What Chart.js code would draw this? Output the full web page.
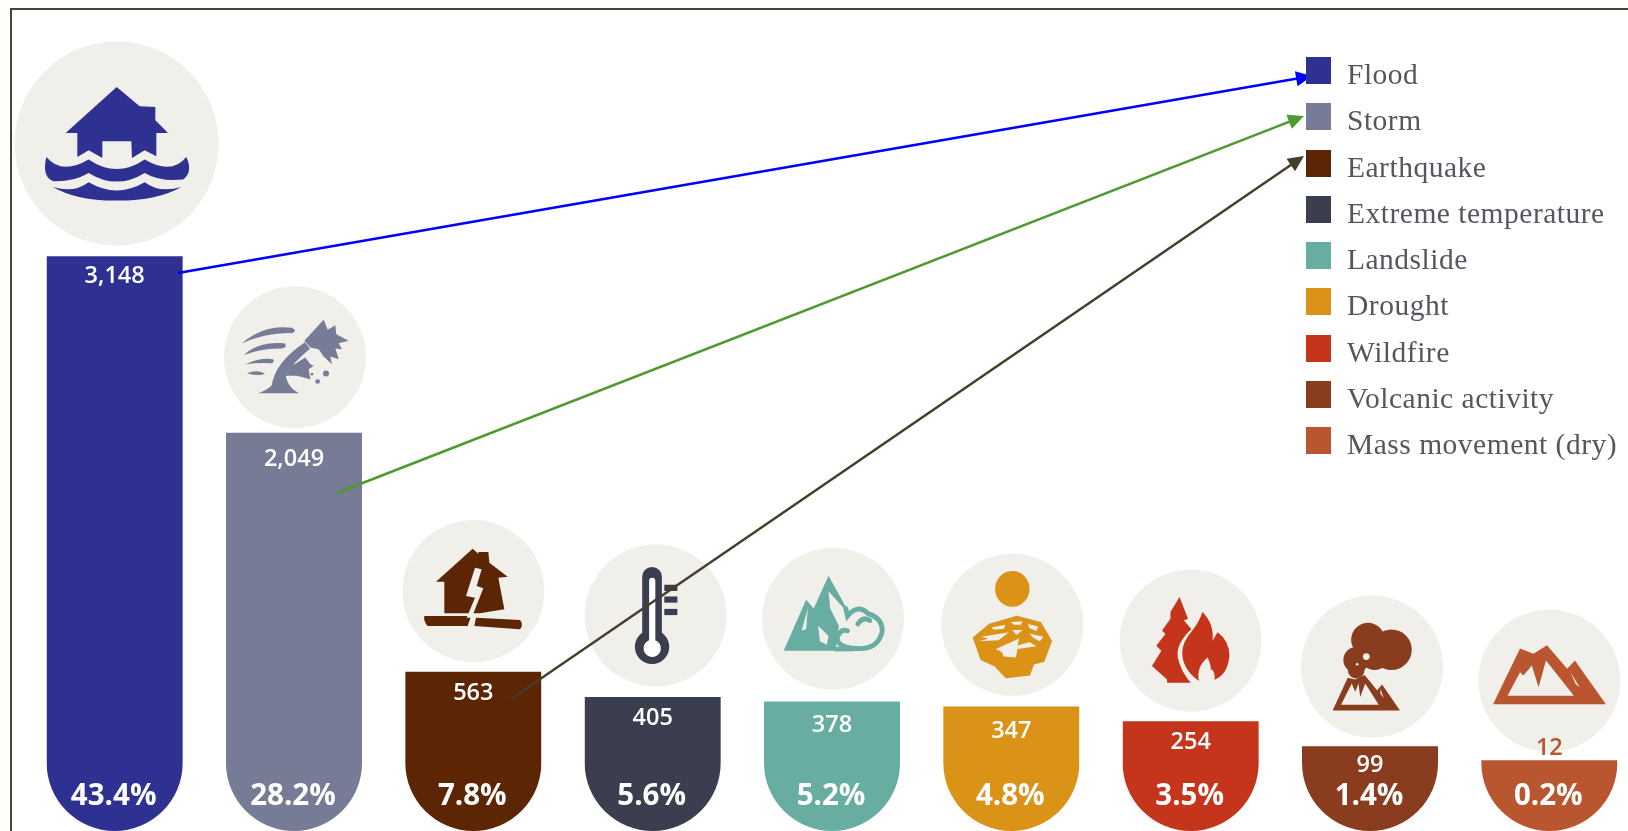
<!DOCTYPE html>
<html>
<head>
<meta charset="utf-8">
<title>Disasters by type</title>
<script src="https://cdn.jsdelivr.net/npm/chart.js@4"></script>
<style>
  html, body { margin: 0; background: #fff; overflow: hidden; width: 1628px; height: 831px; }
  #frame { position: absolute; left: 10px; top: 8px; right: -4px; bottom: -4px; border: 2px solid #4a4433; }
  #wrap { position: absolute; left: 0; top: 0; width: 1640px; height: 831px; }
  #legend { position: absolute; left: 1306px; top: 57px; }
  .row { display: flex; height: 46.25px; color: #55565f; font: 29.5px/1 "Liberation Serif", serif; letter-spacing: .5px; }
  .sq { width: 25px; height: 27px; margin-right: 16px; flex: none; }
  .row span { margin-top: 3px; white-space: nowrap; }
</style>
</head>
<body>
<div id="frame"></div>
<div id="wrap"><canvas id="chart"></canvas></div>
<div id="legend"></div>
<script>
/* ── DATA ───────────────────────────────────────────────────────────── */
const categories = ['Flood', 'Storm', 'Earthquake', 'Extreme temperature', 'Landslide', 'Drought', 'Wildfire', 'Volcanic activity', 'Mass movement (dry)'];
const counts     = [3148, 2049, 563, 405, 378, 347, 254, 99, 12];
const countText  = ['3,148', '2,049', '563', '405', '378', '347', '254', '99', '12'];
const shares     = ['43.4%', '28.2%', '7.8%', '5.6%', '5.2%', '4.8%', '3.5%', '1.4%', '0.2%'];
const colors     = ['#2e3192', '#767b96', '#5c2504', '#3b3e4e', '#68ada2', '#da9217', '#c4351c', '#893d1e', '#b9562f'];

/* ── STYLE / LAYOUT ─────────────────────────────────────────────────── */
const DISC    = '#f0efe9';
const Y_MIN   = -426;
const Y_MAX   = 4682;
const CAP_R   = 68;
const discR   = [102, 71, 71, 71, 71, 71, 71, 71, 71];
const discUp  = [113, 76, 81, 82, 83, 82, 81, 80, 80];   // disc centre above bar top
const discOff = [2, 1, 0, 3, 1, 1, 0, 2, 0];             // disc centre right of bar centre
const textOff = [20, 26, 21.5, 21, 24, 25, 20.5, 18.5, -12]; // count label below bar top
const links   = [
  { from: [178, 273], to: [1312, 76],  color: '#0000ff' },
  { from: [337, 493], to: [1304, 116], color: '#4e9a2e' },
  { from: [511, 699], to: [1304, 156], color: '#453e2c' },
];

/* ── ICONS (svg paths around the disc centre; `cut` is knocked out) ─── */
const icons = [
  { k: 1/3, fill: [
      'M0,-170 L69,-112 L116,-110 L116,-70 L154,-32 L119,-32 L119,38 L84,20 L46,43 L44,-7 L-43,-7 L-43,43 L-84,20 L-118,40 L-118,-32 L-153,-32 Z',
      'M-211,40 Q-165,95 -84,48 Q0,105 84,48 Q165,95 209,40 Q230,85 199,108 Q130,115 84,88 Q0,140 -84,88 Q-130,115 -190,113 Q-225,100 -211,40 Z',
      'M-191,130 Q-130,150 -84,116 Q0,165 84,116 Q130,150 194,130 Q120,172 0,171 Q-120,172 -191,130 Z'] },
  { k: 1/3, fill: [
      'M-159,-42 Q-90,-100 -10,-88 Q10,-78 -10,-72 Q-80,-75 -159,-42 Z',
      'M-154,-6 Q-110,-48 -32,-42 Q-20,-30 -40,-26 Q-100,-28 -154,-6 Z',
      'M-149,21 Q-100,0 -66,6 Q-60,14 -70,18 Q-110,16 -149,21 Z',
      'M-144,48 Q-110,36 -90,50 Q-110,58 -144,48 Z',
      'M-111,108 Q-85,100 -70,85 Q-60,15 30,-45 L45,-25 Q-5,15 -28,55 Q-22,90 11,108 Z',
      'M28,-49 L46,-69 L86,-112 L98,-82 L121,-96 L124,-69 L161,-49 L131,-42 L141,-24 L121,-26 L131,6 L106,-2 L111,21 L86,-2 L71,-24 L46,-29 Z',
      'M-29,56 L-9,26 L31,1 L46,21 L56,26 L41,36 L46,66 L6,56 Z',
      'M84,49 a9,9 0 1,0 18,0 a9,9 0 1,0 -18,0 Z',
      'M61,73 a7,7 0 1,0 14,0 a7,7 0 1,0 -14,0 Z',
      'M47,51 a4,4 0 1,0 8,0 a4,4 0 1,0 -8,0 Z'] },
  { k: 1/3, fill: [
      'M-2,-127 L15,-112 L15,-117 L45,-117 L48,-85 L103,-43 L75,-40 L93,55 L20,67 L-87,67 L-87,-28 L-112,-28 Z',
      'M-147,75 L-7,75 L-17,105 L-137,105 Q-150,90 -147,75 Z',
      'M8,80 L140,87 Q152,100 140,115 L3,105 Z'],
    cut: ['M5,-70 L25,-65 L10,-15 L30,-8 L-5,80 L-20,80 L5,20 L-22,15 Z'] },
  { k: 1/2.9, fill: [
      'M-39,-112 a28,28 0 0 1 57,0 L18,50 a50,50 0 1,1 -57,0 Z',
      'M25,-89 L63,-89 L63,-71 L25,-71 Z', 'M25,-55 L63,-55 L63,-37 L25,-37 Z', 'M25,-19 L63,-19 L63,-1 L25,-1 Z'],
    white: ['M-19,-100 a9,9 0 0 1 18,0 L-1,72 a25,25 0 1,1 -18,0 Z'] },
  { k: 1/2.9, fill: [
      'M-143,93 L-78,-55 L-56,-30 L-13,-125 L37,-35 L45,-15 L-13,-80 L-8,-30 L17,20 L7,93 Z'],
    cut: ['M-73,-30 L-91,35 L-78,30 Z', 'M-43,20 L-13,50 L-18,75 L-38,65 Z'],
    line: ['M37,-30 L42,-8 Q72,-45 102,-15 Q147,0 142,40 Q127,95 57,85 Q12,80 12,55 Q22,28 42,35', 'M72,15 Q87,-8 107,5', 'M7,88 L60,87'] },
  { k: 1/2.9, fill: [
      'M-50,-104 a50,52 0 1,0 100,0 a50,52 0 1,0 -100,0 Z',
      'M-115,37 L-67,-3 L13,-26 L83,-8 L115,47 L93,107 L63,115 L51,147 L-19,155 L-52,120 L-92,102 Z'],
    cut: ['M-60,8 L-20,0 L-25,12 L-55,14 Z', 'M-5,-8 L30,-10 L25,0 L5,0 Z', 'M45,-2 L75,5 L70,18 L50,10 Z',
          'M-90,35 L-10,22 L-40,45 L-95,48 L-70,40 Z', 'M-48,70 L20,40 L15,60 L50,50 L70,62 L15,70 L10,95 L-25,92 L-30,80 Z',
          'M0,15 L30,15 L12,30 Z', 'M50,25 L90,35 L80,48 L60,38 Z'] },
  { k: 1/2.97, fill: [
      'M-33,-130 L-8,-65 L-20,-60 L2,-35 Q-45,10 -38,50 Q-30,90 0,125 L-70,125 L-70,115 L-115,75 L-87,30 L-102,15 L-75,-20 L-85,-30 L-60,-65 L-60,-85 Z',
      'M35,-85 Q70,-50 65,0 L80,-25 Q115,0 115,45 Q110,105 65,118 L25,120 Q-25,85 -25,35 Q-25,5 5,-30 Q25,-55 35,-85 Z'],
    cut: ['M50,50 Q15,80 25,120 L70,120 Q75,90 60,85 Q60,70 50,50 Z'] },
  { k: 1/2.97, fill: [
      'M-62,-80 a50,50 0 1,0 100,0 a50,50 0 1,0 -100,0 Z', 'M-2,-50 a60,60 0 1,0 120,0 a60,60 0 1,0 -120,0 Z',
      'M-85,-20 a38,38 0 1,0 76,0 a38,38 0 1,0 -76,0 Z', 'M-37,-35 a45,45 0 1,0 90,0 a45,45 0 1,0 -90,0 Z',
      'M-72,10 a25,25 0 1,0 50,0 a25,25 0 1,0 -50,0 Z',
      'M-117,130 L-72,33 L-50,38 L-22,25 L15,70 L30,53 L83,130 Z'],
    cut: ['M-27,-30 a10,10 0 1,0 20,0 a10,10 0 1,0 -20,0 Z', 'M-48,-7 a4,4 0 1,0 8,0 a4,4 0 1,0 -8,0 Z',
          'M-92,113 L-60,50 L-50,75 L-40,50 L-35,90 L-20,50 L20,113 Z', 'M25,65 L35,95 L25,80 Z'] },
  { k: 1/2.97, fill: ['M-167,70 L-87,-95 L-47,-80 L-7,-105 L53,-35 L76,-60 L168,70 Z'],
    cut: ['M-124,45 L-87,-25 L-77,-15 L-52,-45 L-32,20 L-10,-60 L73,45 Z', 'M63,-25 L90,20 L78,10 Z'] },
];

/* ── PLUGINS ────────────────────────────────────────────────────────── */
function drawIcon(ctx, icon, x, y, color) {
  ctx.save();
  ctx.translate(x, y);
  ctx.scale(icon.k, icon.k);
  ctx.fillStyle = color;
  icon.fill.forEach(p => ctx.fill(new Path2D(p)));
  ctx.fillStyle = DISC;
  (icon.cut || []).forEach(p => ctx.fill(new Path2D(p)));
  ctx.fillStyle = '#fff';
  (icon.white || []).forEach(p => ctx.fill(new Path2D(p)));
  ctx.strokeStyle = color;
  ctx.lineWidth = 14;
  ctx.lineCap = 'round';
  (icon.line || []).forEach(p => ctx.stroke(new Path2D(p)));
  ctx.restore();
}

const discs = {
  id: 'discs',
  beforeDatasetsDraw(chart) {
    const { ctx } = chart;
    chart.getDatasetMeta(0).data.forEach((bar, i) => {
      const cx = bar.x + discOff[i], cy = bar.y - discUp[i];
      ctx.fillStyle = DISC;
      ctx.beginPath();
      ctx.arc(cx, cy, discR[i], 0, Math.PI * 2);
      ctx.fill();
      drawIcon(ctx, icons[i], cx, cy, colors[i]);
    });
  },
};

// chart.js limits borderRadius to half the bar height, too small for the short bars,
// so every bar is clipped to a full half-round foot instead
const roundFoot = {
  id: 'roundFoot',
  beforeDatasetDraw(chart) {
    const { ctx, scales } = chart;
    const cy = scales.y.bottom - CAP_R;
    ctx.save();
    ctx.beginPath();
    chart.getDatasetMeta(0).data.forEach(bar => {
      ctx.moveTo(bar.x - CAP_R, 0);
      ctx.lineTo(bar.x + CAP_R, 0);
      ctx.lineTo(bar.x + CAP_R, cy);
      ctx.arc(bar.x, cy, CAP_R, 0, Math.PI);
      ctx.closePath();
    });
    ctx.clip();
  },
  afterDatasetDraw(chart) {
    chart.ctx.restore();
  },
};

const barText = {
  id: 'barText',
  afterDatasetsDraw(chart) {
    const { ctx, scales } = chart;
    ctx.save();
    ctx.textAlign = 'center';
    ctx.textBaseline = 'middle';
    chart.getDatasetMeta(0).data.forEach((bar, i) => {
      ctx.font = '600 23.5px "Open Sans"';
      ctx.fillStyle = textOff[i] < 0 ? colors[i] : '#fff';
      ctx.fillText(countText[i], bar.x, bar.y + textOff[i]);
      ctx.font = '700 29.5px "Open Sans"';
      ctx.fillStyle = '#fff';
      ctx.fillText(shares[i], bar.x - 1, scales.y.bottom - 34);
    });
    ctx.restore();
  },
};

const arrows = {
  id: 'arrows',
  afterDraw(chart) {
    const { ctx } = chart;
    links.forEach(l => {
      const [x0, y0] = l.from, [x1, y1] = l.to;
      const a = Math.atan2(y1 - y0, x1 - x0);
      ctx.save();
      ctx.strokeStyle = ctx.fillStyle = l.color;
      ctx.lineWidth = 2.5;
      ctx.beginPath();
      ctx.moveTo(x0, y0);
      ctx.lineTo(x1 - 12 * Math.cos(a), y1 - 12 * Math.sin(a));
      ctx.stroke();
      ctx.translate(x1, y1);
      ctx.rotate(a);
      ctx.beginPath();
      ctx.moveTo(0, 0);
      ctx.lineTo(-16, -7.5);
      ctx.lineTo(-16, 7.5);
      ctx.closePath();
      ctx.fill();
      ctx.restore();
    });
  },
};

/* ── LEGEND ─────────────────────────────────────────────────────────── */
document.getElementById('legend').innerHTML = categories.map((c, i) =>
  `<div class="row"><div class="sq" style="background:${colors[i]}"></div><span>${c}</span></div>`
).join('');

/* ── CHART ──────────────────────────────────────────────────────────── */
new Chart(document.getElementById('chart'), {
  type: 'bar',
  data: {
    labels: categories,
    datasets: [{
      data: counts,
      base: Y_MIN,
      backgroundColor: colors,
      barThickness: 136,
    }],
  },
  options: {
    responsive: true, maintainAspectRatio: false, animation: false,
    layout: { padding: { left: 25, right: 1, top: 10, bottom: 0 } },
    plugins: { legend: { display: false }, tooltip: { enabled: false } },
    scales: {
      x: { display: false },
      y: { display: false, min: Y_MIN, max: Y_MAX },
    },
  },
  plugins: [discs, roundFoot, barText, arrows],
});
</script>
</body>
</html>
